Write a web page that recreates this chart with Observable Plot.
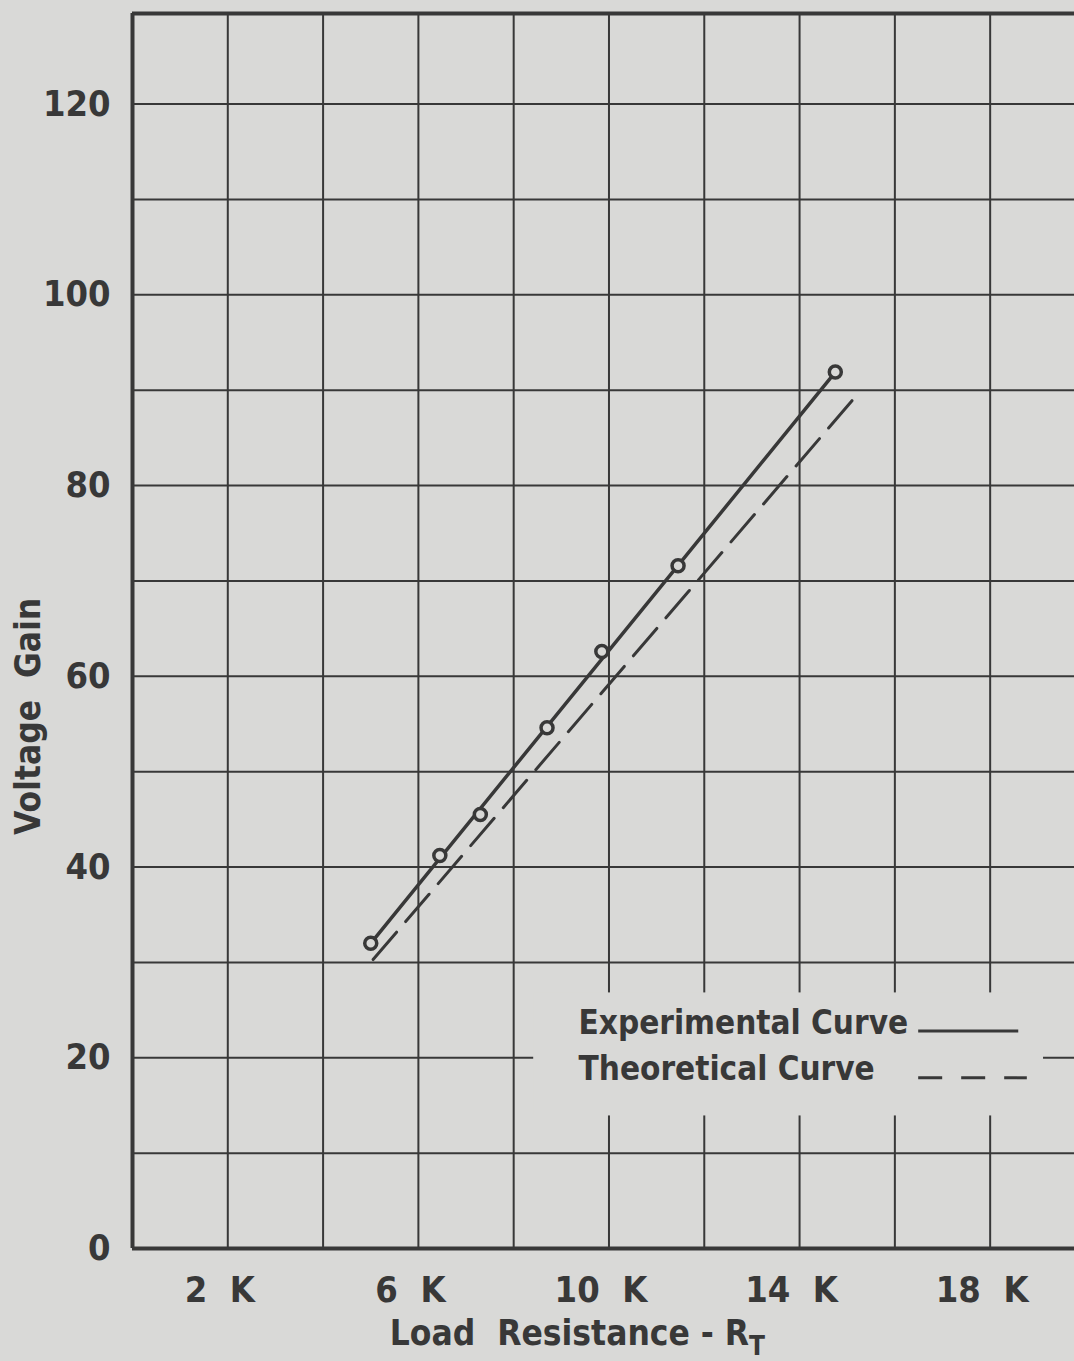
<!DOCTYPE html>
<html><head><meta charset="utf-8">
<script src="https://cdn.jsdelivr.net/npm/d3@7"></script>
<script src="https://cdn.jsdelivr.net/npm/@observablehq/plot@0.6"></script>
<style>
html,body{margin:0;padding:0;background:#d9d9d7;overflow:hidden;}
#chart svg{white-space:pre;}
</style></head><body><div id="chart"></div>
<script>
// Measured points (load resistance in kΩ, voltage gain)
const resistanceK = [5.0, 6.45, 7.3, 8.7, 9.85, 11.45, 14.75];
const gainMeasured = [32.0, 41.2, 45.5, 54.6, 62.6, 71.6, 91.9];
// Experimental (solid) curve end points
const experimentalK = [5.0, 14.75];
const experimentalGain = [32.0, 91.9];
// Theoretical (dashed) curve end points
const theoreticalK = [5.05, 15.1];
const theoreticalGain = [30.3, 88.9];
// Axis ticks
const xTickValues = [2, 6, 10, 14, 18];
const yTickValues = [0, 20, 40, 60, 80, 100, 120];
const xGridValues = [0, 2, 4, 6, 8, 10, 12, 14, 16, 18];
const yGridValues = [0, 10, 20, 30, 40, 50, 60, 70, 80, 90, 100, 110, 120];
const legendLabels = ["Experimental Curve", "Theoretical Curve"];
const xLabel = "Load  Resistance - R";
const xLabelSub = "T";
const yLabel = "Voltage  Gain";

const BG = "#d9d9d7";
const INK = "#383838";
const FONT = "'DejaVu Sans Condensed', 'DejaVu Sans', sans-serif";

const points = resistanceK.map((k, i) => ({k, g: gainMeasured[i]}));
const expLine = experimentalK.map((k, i) => ({k, g: experimentalGain[i]}));
const theoLine = theoreticalK.map((k, i) => ({k, g: theoreticalGain[i]}));

const chart = Plot.plot({
  width: 1074,
  height: 1361,
  marginLeft: 132,
  marginRight: 0,
  marginTop: 13,
  marginBottom: 113,
  style: {background: BG, fontFamily: FONT, fontWeight: "bold", color: INK},
  x: {domain: [0, 19.77]},
  y: {domain: [0, 129.5]},
  marks: [
    Plot.gridX(xGridValues, {stroke: INK, strokeOpacity: 1, strokeWidth: 2}),
    Plot.gridY(yGridValues, {stroke: INK, strokeOpacity: 1, strokeWidth: 2}),
    Plot.ruleX([0], {stroke: INK, strokeWidth: 4}),
    Plot.ruleY([0, 129.5], {stroke: INK, strokeWidth: 4}),
    // legend background patch
    Plot.rect([0], {x1: 8.42, x2: 19.12, y1: 13.9, y2: 26.8, fill: BG}),
    Plot.axisX({ticks: xTickValues, tickFormat: d => `${d}  K`, tickSize: 0, tickPadding: 28,
      fontSize: 36, dx: -8, label: null, fill: INK}),
    Plot.axisY({ticks: yTickValues, tickSize: 0, tickPadding: 22, fontSize: 36, label: null, fill: INK}),
    Plot.line(theoLine, {x: "k", y: "g", stroke: INK, strokeWidth: 3, strokeDasharray: "36,14"}),
    Plot.line(expLine, {x: "k", y: "g", stroke: INK, strokeWidth: 3.5}),
    Plot.dot(points, {x: "k", y: "g", r: 6, stroke: INK, strokeWidth: 3.5, fill: BG}),
    // legend
    Plot.text([legendLabels[0]], {x: 9.36, y: 23.6, textAnchor: "start", fontSize: 33, fill: INK}),
    Plot.text([legendLabels[1]], {x: 9.36, y: 18.8, textAnchor: "start", fontSize: 33, fill: INK}),
    Plot.ruleY([22.8], {x1: 16.5, x2: 18.6, stroke: INK, strokeWidth: 3}),
    Plot.ruleY([17.9], {x1: 16.5, x2: 18.78, stroke: INK, strokeWidth: 3, strokeDasharray: "24,19"}),
    // axis labels
    Plot.text([yLabel], {frameAnchor: "left", y: 55.8, dx: -104, rotate: -90, textAnchor: "middle",
      lineAnchor: "middle", fontSize: 35, fill: INK}),
    Plot.text([xLabel], {frameAnchor: "bottom", x: 5.4, dy: 85, textAnchor: "start",
      lineAnchor: "middle", fontSize: 35, fill: INK})
  ]
});
document.getElementById("chart").appendChild(chart);
d3.select(chart).selectAll("text").filter(function() { return this.textContent === xLabel; })
  .append("tspan").attr("dy", "0.4em").attr("font-size", 26).text(xLabelSub);
</script></body></html>
